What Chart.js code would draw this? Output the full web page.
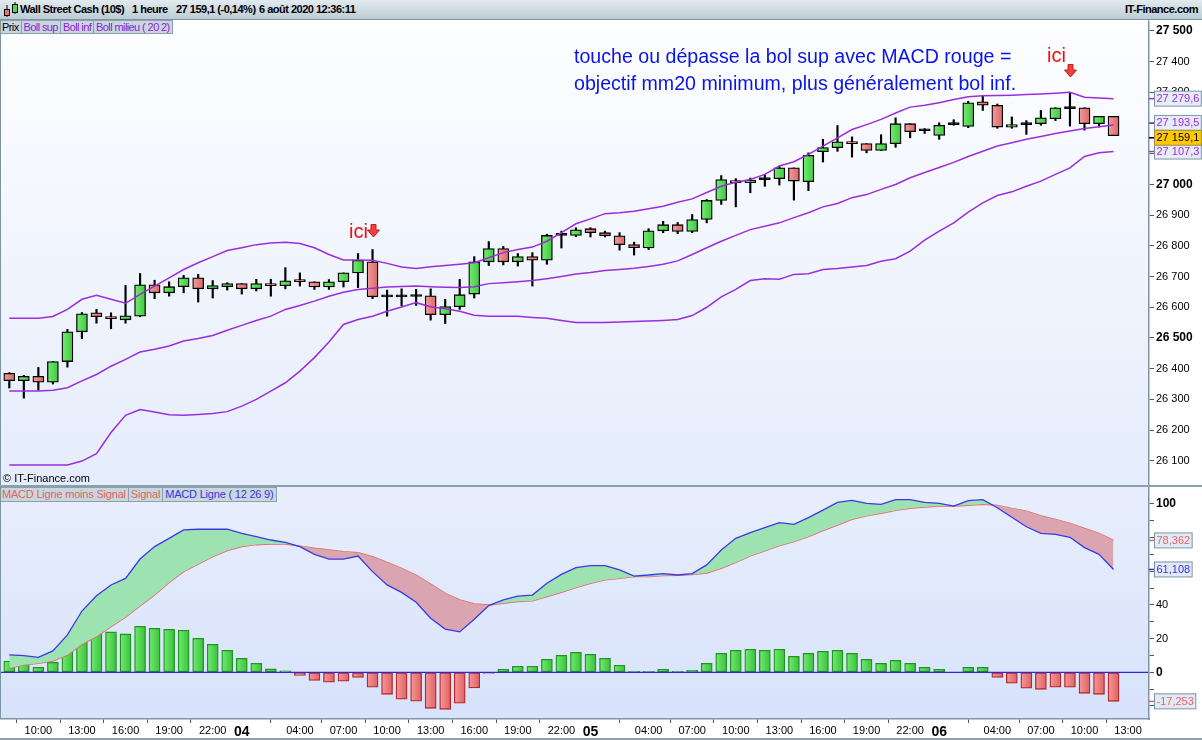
<!DOCTYPE html>
<html>
<head>
<meta charset="utf-8">
<script src="https://cdn.jsdelivr.net/npm/chart.js@4.4.1/dist/chart.umd.min.js"></script>
<style>
  body { margin: 0; width: 1202px; height: 740px; position: relative; overflow: hidden; background: #fff; font-family: 'Liberation Sans', Arial, sans-serif; }
  #header { position: absolute; left: 0; top: 0; width: 1202px; height: 20px; background: linear-gradient(#e2eaef, #bdccd6); border-bottom: 1px solid #7d95a3; box-sizing: border-box; }
  #header span { position: absolute; top: 3px; font-size: 11px; font-weight: bold; letter-spacing: -0.5px; color: #000; white-space: nowrap; }
  .tabs { position: absolute; left: 0; display: flex; }
  .tabs span { font-size: 11px; line-height: 12px; padding: 0 2px; background: #c9d6de; border: 1px solid #8ca0ac; border-left: none; white-space: nowrap; }
  .tabs.top span { letter-spacing: -0.6px; }
  .tabs.low span { letter-spacing: -0.2px; line-height: 13px; }
  canvas { position: absolute; left: 0; }
  #priceChart { top: 21px; }
  #macdChart { top: 487px; }
  .note { position: absolute; color: #0a14e6; font-size: 19.6px; line-height: 27px; white-space: nowrap; }
  .ici { position: absolute; color: #f01010; font-size: 20px; line-height: 20px; }
  .arrow { position: absolute; }
  #frame { position: absolute; left: 0; top: 20px; width: 1149px; height: 699px; border-left: 1px solid #7d95a3; border-right: 1px solid #7d95a3; box-sizing: border-box; pointer-events: none; }
  #sep { position: absolute; left: 0; top: 485px; width: 1202px; height: 2px; background: #8ba0ad; }
  #bottom { position: absolute; left: 0; top: 738px; width: 1202px; height: 2px; background: #8ba0ad; }
  #copy { position: absolute; left: 3px; top: 472px; font-size: 11px; color: #000; }
</style>
</head>
<body>
<div id="header">
  <svg style="position:absolute;left:3px;top:2px" width="18" height="16">
    <line x1="4" y1="3" x2="4" y2="15" stroke="#000"/>
    <rect x="1.5" y="7.5" width="5" height="6" fill="#f07070" stroke="#000"/>
    <line x1="12" y1="0" x2="12" y2="12" stroke="#000"/>
    <rect x="9.5" y="2.5" width="5" height="8" fill="#50d850" stroke="#000"/>
  </svg>
  <span style="left:20px">Wall Street Cash (10$)</span>
  <span style="left:132px">1 heure</span>
  <span style="left:176px">27 159,1 (-0,14%)</span>
  <span style="left:259px">6 août 2020 12:36:11</span>
  <span style="right:4px">IT-Finance.com</span>
</div>

<canvas id="priceChart" width="1202" height="464"></canvas>
<canvas id="macdChart" width="1202" height="253"></canvas>

<div class="tabs top" style="top:20px">
  <span style="color:#000">Prix</span>
  <span style="color:#8a22d6">Boll sup</span>
  <span style="color:#8a22d6">Boll inf</span>
  <span style="color:#8a22d6">Boll milieu ( 20 2)</span>
</div>
<div class="tabs low" style="top:487px">
  <span style="color:#e06464">MACD Ligne moins Signal</span>
  <span style="color:#e06464">Signal</span>
  <span style="color:#3434e0">MACD Ligne ( 12 26 9)</span>
</div>

<div class="note" style="left:574px;top:43px">touche ou dépasse la bol sup avec MACD rouge =<br>objectif mm20 minimum, plus généralement bol inf.</div>
<div class="ici" style="left:1047px;top:45px">ici</div>
<svg class="arrow" style="left:1064px;top:64px" width="13" height="14">
  <path d="M4,0.5 H9 V6 H12.5 L6.5,13 L0.5,6 H4 Z" fill="#f04040" stroke="#c02020" stroke-width="1"/>
</svg>
<div class="ici" style="left:349px;top:221px">ici</div>
<svg class="arrow" style="left:367px;top:224px" width="13" height="14">
  <path d="M4,0.5 H9 V6 H12.5 L6.5,13 L0.5,6 H4 Z" fill="#f04040" stroke="#c02020" stroke-width="1"/>
</svg>
<div id="copy">© IT-Finance.com</div>
<div id="frame"></div>
<div id="sep"></div>
<div id="bottom"></div>

<script>
// Wall Street Cash, bougies 1 heure du 3 août 08:00 au 6 août 12:00
const opens = [26385,26361,26375,26356,26423,26520,26582,26569,26559,26571,
  26673,26647,26667,26696,26660,26667,26677,26660,26677,26670,
  26690,26683,26666,26683,26712,26748,26634,26634,26635,26637,
  26576,26602,26643,26748,26791,26748,26765,26753,26834,26834,
  26856,26843,26833,26804,26793,26849,26869,26847,26886,26948,
  27011,27006,27016,27019,27054,27009,27107,27120,27139,27133,
  27111,27133,27198,27175,27160,27195,27189,27269,27258,27187,
  27195,27198,27214,27247,27250,27198,27222];
const highs = [26387,26378,26404,26423,26528,26583,26593,26582,26671,26710,
  26688,26683,26704,26707,26687,26680,26677,26691,26691,26729,
  26712,26683,26690,26712,26775,26788,26656,26660,26658,26660,
  26626,26691,26765,26814,26798,26775,26778,26838,26848,26859,
  26859,26848,26843,26812,26856,26880,26876,26902,26951,27029,
  27019,27021,27033,27060,27054,27103,27147,27192,27155,27133,
  27162,27217,27198,27182,27201,27211,27271,27288,27262,27220,
  27208,27241,27250,27299,27250,27222,27222];
const lows = [26337,26304,26330,26350,26405,26498,26548,26530,26548,26569,
  26628,26636,26647,26617,26630,26656,26643,26653,26636,26660,
  26669,26658,26658,26666,26664,26628,26571,26605,26606,26558,
  26547,26593,26630,26736,26738,26734,26669,26740,26793,26830,
  26829,26829,26786,26770,26788,26843,26840,26843,26875,26935,
  26927,26973,26994,26998,26949,26980,27073,27108,27089,27103,
  27111,27121,27152,27166,27147,27193,27185,27241,27183,27183,
  27163,27193,27208,27190,27177,27187,27159];
const closes = [26361,26375,26356,26423,26520,26579,26569,26563,26572,26673,
  26647,26667,26696,26660,26671,26677,26660,26677,26670,26686,
  26683,26666,26683,26712,26753,26634,26634,26634,26635,26576,
  26602,26641,26748,26791,26748,26765,26753,26834,26834,26852,
  26843,26833,26804,26794,26849,26869,26847,26886,26948,27016,
  27006,27014,27016,27054,27011,27095,27120,27139,27133,27111,
  27133,27198,27172,27175,27193,27195,27266,27258,27187,27195,
  27195,27217,27250,27247,27198,27222,27159.1];

const bollUp = [26564,26564,26564,26570,26593,26626,26639,26626,26613,26642,
  26669,26696,26723,26745,26765,26785,26794,26804,26809,26812,
  26808,26794,26772,26754,26754,26753,26743,26731,26726,26732,
  26736,26740,26745,26761,26778,26788,26796,26815,26843,26872,
  26888,26905,26908,26913,26921,26929,26942,26953,26974,26994,
  27007,27016,27033,27060,27074,27098,27125,27152,27179,27195,
  27212,27233,27252,27258,27266,27277,27286,27289,27290,27291,
  27293,27295,27297,27300,27284,27282,27279.6];
const bollMid = [26327,26327,26327,26330,26338,26360,26381,26408,26430,26454,
  26463,26474,26490,26498,26508,26525,26541,26557,26571,26593,
  26606,26620,26636,26649,26658,26662,26666,26668,26669,26667,
  26665,26664,26667,26677,26680,26683,26687,26693,26700,26708,
  26713,26720,26723,26727,26733,26740,26751,26772,26794,26815,
  26834,26853,26864,26875,26892,26908,26927,26938,26957,26967,
  26984,27000,27022,27039,27055,27072,27091,27108,27125,27136,
  27147,27156,27166,27174,27182,27188,27193.5];
const bollLow = [26086,26086,26086,26086,26086,26099,26123,26192,26248,26267,
  26259,26250,26248,26251,26254,26260,26278,26300,26327,26354,
  26392,26436,26487,26544,26560,26571,26587,26601,26615,26602,
  26595,26587,26574,26571,26571,26571,26567,26564,26557,26550,
  26550,26550,26552,26554,26555,26557,26560,26573,26600,26634,
  26658,26687,26693,26691,26707,26709,26723,26726,26731,26736,
  26750,26758,26783,26819,26848,26875,26910,26940,26964,26976,
  26994,27011,27033,27054,27091,27103,27107.3];

const macdLine = [10.3,9.9,8.9,12.7,22.2,36.4,45.5,51.9,55.8,67.3,
  74.7,79.6,84.6,85.0,85.0,85.0,82.6,80.6,78.6,77.2,
  74.7,70.1,67.3,67.3,69.1,59.8,51.9,47.5,41.6,32.1,
  25.7,24.0,31.5,39.6,43.0,45.3,45.9,52.9,58.2,62.2,
  63.4,63.4,60.8,57.2,57.8,58.6,57.8,58.6,63.8,72.7,
  79.6,83.0,85.9,88.9,87.9,91.9,96.4,101.0,102.2,100.4,
  99.8,102.6,102.6,101.0,100.4,98.8,102.0,102.6,97.8,92.1,
  86.5,82.6,82.0,80.2,74.1,70.1,61.108];
const signalLine = [2.4,4.4,5.3,6.7,10.3,16.6,21.2,27.1,32.7,39.4,
  45.9,53.3,59.8,64.2,68.7,72.3,74.7,75.8,76.2,76.2,
  75.0,73.7,72.7,71.7,71.1,68.7,65.3,61.8,57.8,52.5,
  46.9,43.0,40.6,40.0,41.0,42.0,42.4,45.0,47.5,50.3,
  52.9,54.9,55.8,56.8,56.8,57.4,57.6,58.0,59.0,61.8,
  65.3,69.1,72.1,75.2,77.6,80.6,84.2,87.5,90.9,92.9,
  94.5,96.2,97.4,98.2,98.8,98.8,99.2,99.8,99.2,97.4,
  95.8,92.9,90.9,88.5,85.5,82.6,78.362];
const macdHisto = [6.7,5.1,3.0,5.9,13.3,20.8,24.0,24.0,22.8,27.3,
  26.1,25.5,25.0,20.2,16.6,13.1,8.3,5.3,2.0,0.8,
  -1.8,-4.8,-5.9,-5.3,-3.0,-8.9,-13.1,-16.0,-17.2,-21.4,
  -22.0,-18.4,-9.3,-0.6,1.8,3.6,3.6,7.7,10.1,11.9,
  10.7,8.3,4.2,0.6,0.6,1.8,0.6,1.2,5.3,11.3,
  13.1,13.7,13.1,13.7,9.5,11.3,12.5,13.1,11.3,7.7,
  5.3,7.1,5.3,3.0,1.8,0,3.0,3.0,-3.0,-6.5,
  -9.5,-10.1,-8.9,-8.9,-12.5,-13.1,-17.253];

const priceTicks = [26100,26200,26300,26400,26500,26600,26700,26800,26900,27000,27100,27200,27300,27400,27500];
const macdTicks = [-20,-10,0,10,20,30,40,50,60,70,80,90,100];
const macdTickLabels = {100: '100', 40: '40', 20: '20', 0: '0'};
const timeTickIdx = [2,5,8,11,14,16,20,23,26,29,32,35,38,40,44,47,50,53,56,59,62,64,68,71,74,77];
const timeTickLabels = ['10:00','13:00','16:00','19:00','22:00','04','04:00','07:00','10:00','13:00','16:00','19:00','22:00','05',
  '04:00','07:00','10:00','13:00','16:00','19:00','22:00','06','04:00','07:00','10:00','13:00'];
const dayTickIdx = [16,40,64];

const FONT = "'Liberation Sans', Arial, sans-serif";
const PURPLE = '#9a2edc';
const X_MIN = -0.64, X_MAX = 78.44;

const idx = opens.map((o, i) => i);
const pts = arr => arr.map((v, i) => ({ x: i, y: v }));

function fmtPrice(v, dec) {
  const s = v.toFixed(dec).split('.');
  const int = s[0].replace(/\B(?=(\d{3})+(?!\d))/g, ' ');
  return s[1] ? int + ',' + s[1] : int;
}

function barGradient(c, light, dark) {
  const xs = c.chart.scales.x;
  if (!xs || !c.chart.chartArea) return dark;
  const px = xs.getPixelForValue(c.dataIndex);
  const g = c.chart.ctx.createLinearGradient(px - 6, 0, px + 6, 0);
  g.addColorStop(0, light);
  g.addColorStop(1, dark);
  return g;
}

function panelBackground(top, bottom) {
  return {
    id: 'panelBg',
    beforeDraw(chart) {
      const a = chart.chartArea, ctx = chart.ctx;
      const g = ctx.createLinearGradient(0, a.top, 0, a.bottom);
      g.addColorStop(0, top);
      g.addColorStop(1, bottom);
      ctx.save();
      ctx.fillStyle = g;
      ctx.fillRect(a.left, a.top, a.right - a.left, a.bottom - a.top);
      ctx.restore();
    }
  };
}

function drawTag(chart, value, text, color, bg, border) {
  const y = chart.scales.y.getPixelForValue(value);
  const x = chart.chartArea.right;
  const ctx = chart.ctx;
  ctx.save();
  ctx.strokeStyle = color;
  ctx.lineWidth = 1.5;
  ctx.beginPath();
  ctx.moveTo(x, y);
  ctx.lineTo(x + 5, y);
  ctx.stroke();
  ctx.font = '11px ' + FONT;
  const w = ctx.measureText(text).width + 4;
  ctx.fillStyle = bg;
  ctx.fillRect(x + 5.5, y - 7.5, w, 15);
  ctx.strokeStyle = border;
  ctx.lineWidth = 1;
  ctx.strokeRect(x + 5.5, y - 7.5, w, 15);
  ctx.fillStyle = color;
  ctx.textBaseline = 'middle';
  ctx.fillText(text, x + 7.5, y + 0.5);
  ctx.restore();
}

const tickFont = (bold) => bold ? { family: FONT, size: 12, weight: 'bold' } : { family: FONT, size: 11 };

// ---- graphique des prix ----
const priceChart = new Chart(document.getElementById('priceChart'), {
  type: 'bar',
  data: {
    datasets: [
      { type: 'line', data: pts(bollUp), borderColor: PURPLE, borderWidth: 1.5, pointRadius: 0, order: 0 },
      { type: 'line', data: pts(bollMid), borderColor: PURPLE, borderWidth: 1.5, pointRadius: 0, order: 0 },
      { type: 'line', data: pts(bollLow), borderColor: PURPLE, borderWidth: 1.5, pointRadius: 0, order: 0 },
      {
        data: idx.map(i => ({ x: i, y: [Math.min(opens[i], closes[i]), Math.max(opens[i], closes[i])] })),
        barThickness: 11,
        minBarLength: 2,
        borderWidth: 1.3,
        borderColor: '#000',
        borderSkipped: false,
        backgroundColor: c => {
          const i = c.dataIndex;
          if (opens[i] === closes[i]) return '#000';
          return closes[i] > opens[i] ? barGradient(c, '#78ee78', '#3cc63c') : barGradient(c, '#f6a0a0', '#d86464');
        },
        order: 1
      },
      {
        data: idx.map(i => ({ x: i, y: [lows[i], highs[i]] })),
        barThickness: 1.5,
        backgroundColor: '#000',
        borderWidth: 0,
        order: 2
      }
    ]
  },
  options: {
    responsive: false,
    animation: false,
    events: [],
    grouped: false,
    layout: { padding: 0 },
    plugins: { legend: { display: false }, tooltip: { enabled: false } },
    scales: {
      x: { type: 'linear', min: X_MIN, max: X_MAX, offset: false, display: false },
      y: {
        position: 'right',
        min: 26021, max: 27532.5,
        afterBuildTicks: s => { s.ticks = priceTicks.map(v => ({ value: v })); },
        afterFit: s => { s.width = 53; s.paddingTop = 0; s.paddingBottom = 0; },
        border: { display: true, color: '#7d95a3', width: 1.5 },
        grid: { drawOnChartArea: false, tickLength: 5, tickColor: '#555' },
        ticks: {
          padding: 2,
          color: '#000',
          font: c => tickFont(c.tick && c.tick.value % 500 === 0),
          callback: v => fmtPrice(v, 0)
        }
      }
    }
  },
  plugins: [
    panelBackground('#fdfeff', '#e5ecfb'),
    {
      id: 'priceTags',
      afterDraw(chart) {
        const n = closes.length - 1;
        drawTag(chart, bollUp[n], fmtPrice(bollUp[n], 1), PURPLE, '#e6ecfa', '#7d95a3');
        drawTag(chart, bollLow[n], fmtPrice(bollLow[n], 1), PURPLE, '#e6ecfa', '#7d95a3');
        drawTag(chart, bollMid[n] + 7, fmtPrice(bollMid[n], 1), PURPLE, '#e6ecfa', '#7d95a3');
        drawTag(chart, closes[n] - 7, fmtPrice(closes[n], 1), '#000', '#ffc800', '#9a8a50');
      }
    }
  ]
});

// ---- MACD ----
const macdChart = new Chart(document.getElementById('macdChart'), {
  type: 'bar',
  data: {
    datasets: [
      {
        data: pts(macdHisto),
        barThickness: 11,
        borderWidth: 1.3,
        borderSkipped: false,
        borderColor: c => macdHisto[c.dataIndex] >= 0 ? '#1f951f' : '#b22a2a',
        backgroundColor: c => macdHisto[c.dataIndex] >= 0 ? barGradient(c, '#74ec74', '#36c036') : barGradient(c, '#f99a9a', '#dc6060'),
        order: 3
      },
      { type: 'line', data: pts(signalLine), borderColor: '#e86464', borderWidth: 1.3, pointRadius: 0, order: 1 },
      {
        type: 'line', data: pts(macdLine), borderColor: '#3a3ae4', borderWidth: 1.3, pointRadius: 0, order: 0,
        fill: { target: 1, above: '#9de3b2', below: '#daa4b0' }
      }
    ]
  },
  options: {
    responsive: false,
    animation: false,
    events: [],
    layout: { padding: 0 },
    plugins: { legend: { display: false }, tooltip: { enabled: false } },
    scales: {
      x: {
        type: 'linear', min: X_MIN, max: X_MAX, offset: false,
        afterBuildTicks: s => { s.ticks = timeTickIdx.map(v => ({ value: v })); },
        afterFit: s => { s.height = 21; s.paddingLeft = 0; s.paddingRight = 0; },
        border: { display: true, color: '#7d95a3', width: 1.5 },
        grid: {
          drawOnChartArea: false, tickLength: 4,
          tickColor: c => c.tick && dayTickIdx.includes(c.tick.value) ? 'rgba(0,0,0,0)' : '#555'
        },
        ticks: {
          padding: 1,
          color: '#000',
          maxRotation: 0,
          autoSkip: false,
          font: c => dayTickIdx.includes(c.tick && c.tick.value) ? { family: FONT, size: 14, weight: 'bold' } : { family: FONT, size: 11 },
          callback: v => timeTickLabels[timeTickIdx.indexOf(v)]
        }
      },
      y: {
        position: 'right',
        min: -27.75, max: 110.1,
        afterBuildTicks: s => { s.ticks = macdTicks.map(v => ({ value: v })); },
        afterFit: s => { s.width = 53; s.paddingTop = 0; s.paddingBottom = 0; },
        border: { display: true, color: '#7d95a3', width: 1.5 },
        grid: { drawOnChartArea: false, tickLength: 5, tickColor: '#555' },
        ticks: {
          padding: 2,
          color: '#000',
          font: c => tickFont(c.tick && (c.tick.value === 100 || c.tick.value === 0)),
          callback: v => macdTickLabels[v] || ''
        }
      }
    }
  },
  plugins: [
    panelBackground('#e8eefc', '#d7e2fb'),
    {
      id: 'zeroLine',
      afterDatasetsDraw(chart) {
        const y = chart.scales.y.getPixelForValue(0);
        const ctx = chart.ctx;
        ctx.save();
        ctx.strokeStyle = '#2a2ad8';
        ctx.lineWidth = 1.3;
        ctx.beginPath();
        ctx.moveTo(chart.chartArea.left, y);
        ctx.lineTo(chart.chartArea.right, y);
        ctx.stroke();
        ctx.restore();
      }
    },
    {
      id: 'macdTags',
      afterDraw(chart) {
        const n = macdLine.length - 1;
        const f = v => v.toFixed(3).replace('.', ',');
        drawTag(chart, signalLine[n], f(signalLine[n]), '#e86464', '#e2eaf8', '#7d95a3');
        drawTag(chart, macdLine[n], f(macdLine[n]), '#3434e0', '#e2eaf8', '#7d95a3');
        drawTag(chart, macdHisto[n], f(macdHisto[n]), '#e86464', '#e2eaf8', '#7d95a3');
      }
    }
  ]
});
</script>
</body>
</html>
